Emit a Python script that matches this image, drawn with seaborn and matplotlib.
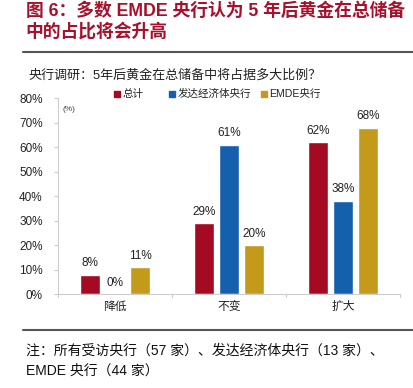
import matplotlib
matplotlib.use("Agg")
import matplotlib.pyplot as plt
import seaborn as sns
import pandas as pd
from matplotlib.lines import Line2D
from matplotlib.patches import Rectangle

categories = ["降低", "不变", "扩大"]
series = ["总计", "发达经济体央行", "EMDE央行"]
total = [8, 29, 62]
advanced = [0, 61, 38]
emde = [11, 20, 68]
yticks = [0, 10, 20, 30, 40, 50, 60, 70, 80]
colors = ["#a50a23", "#1560ac", "#c39a1a"]

rows = []
for name, vals in zip(series, [total, advanced, emde]):
    for c, v in zip(categories, vals):
        rows.append({"cat": c, "series": name, "value": v})
df = pd.DataFrame(rows)

sns.set_theme(style="white")
plt.rcParams["font.family"] = ["Liberation Sans", "Noto Sans CJK SC", "DejaVu Sans"]

fig = plt.figure(figsize=(4.14, 3.88), dpi=100)
ax = fig.add_axes([0.14, 0.242, 0.826, 0.505])

sns.barplot(data=df, x="cat", y="value", hue="series", order=categories,
            hue_order=series, palette=colors, width=0.66, gap=0.2,
            saturation=1, ax=ax, legend=False)

for cont in ax.containers:
    ax.bar_label(cont, labels=[f"{v:.0f}%" for v in cont.datavalues],
                 padding=4, fontsize=8.5, color="#222222")

ax.set_xlim(-0.5, 2.5)
ax.set_ylim(0, 80)
ax.set_yticks(yticks)
ax.set_yticklabels([f"{t}%" for t in yticks], fontsize=8.5, color="#222222")
ax.set_xlabel("")
ax.set_ylabel("")
ax.set_xticks([0, 1, 2])
ax.set_xticklabels(categories, fontsize=8.5, color="#222222")
ax.tick_params(axis="x", length=0, pad=5)
ax.tick_params(axis="y", length=3, color="#cccccc", width=0.8, pad=8, left=True)
for t in [-0.5, 0.5, 1.5, 2.5]:
    ax.plot([t, t], [0, -1.2], color="#cccccc", lw=0.8, clip_on=False)
for s in ["top", "right"]:
    ax.spines[s].set_visible(False)
for s in ["left", "bottom"]:
    ax.spines[s].set_color("#cccccc")
    ax.spines[s].set_linewidth(0.8)

ax.text(0.012, 0.96, "(%)", transform=ax.transAxes, fontsize=6, color="#444444",
        va="top")

# legend
lx = [0.275, 0.408, 0.630]
for x, name, col in zip(lx, series, colors):
    fig.patches.append(Rectangle((x, 0.750), 0.015, 0.016, transform=fig.transFigure,
                                 color=col))
    fig.text(x + 0.021, 0.758, name, fontsize=7.6, color="#222222", va="center")

# titles
red = "#a8102b"
fig.text(0.062, 0.972, "图 6：多数 EMDE 央行认为 5 年后黄金在总储备", fontsize=12.8,
         fontweight="bold", color=red, va="center")
fig.text(0.062, 0.918, "中的占比将会升高", fontsize=12.8, fontweight="bold", color=red,
         va="center")
fig.add_artist(Line2D([0.056, 1.0], [0.866, 0.866], color="#555555", lw=1.5,
                      transform=fig.transFigure))
fig.text(0.068, 0.806, "央行调研：5年后黄金在总储备中将占据多大比例？", fontsize=9.4,
         color="#222222", va="center")

fig.add_artist(Line2D([0.056, 1.0], [0.149, 0.149], color="#555555", lw=1.5,
                      transform=fig.transFigure))
fig.text(0.063, 0.095, "注：所有受访央行（57 家）、发达经济体央行（13 家）、",
         fontsize=10, color="#111111", va="center")
fig.text(0.063, 0.044, "EMDE 央行（44 家）", fontsize=10, color="#111111",
         va="center")

fig.savefig("out.png", dpi=100)
